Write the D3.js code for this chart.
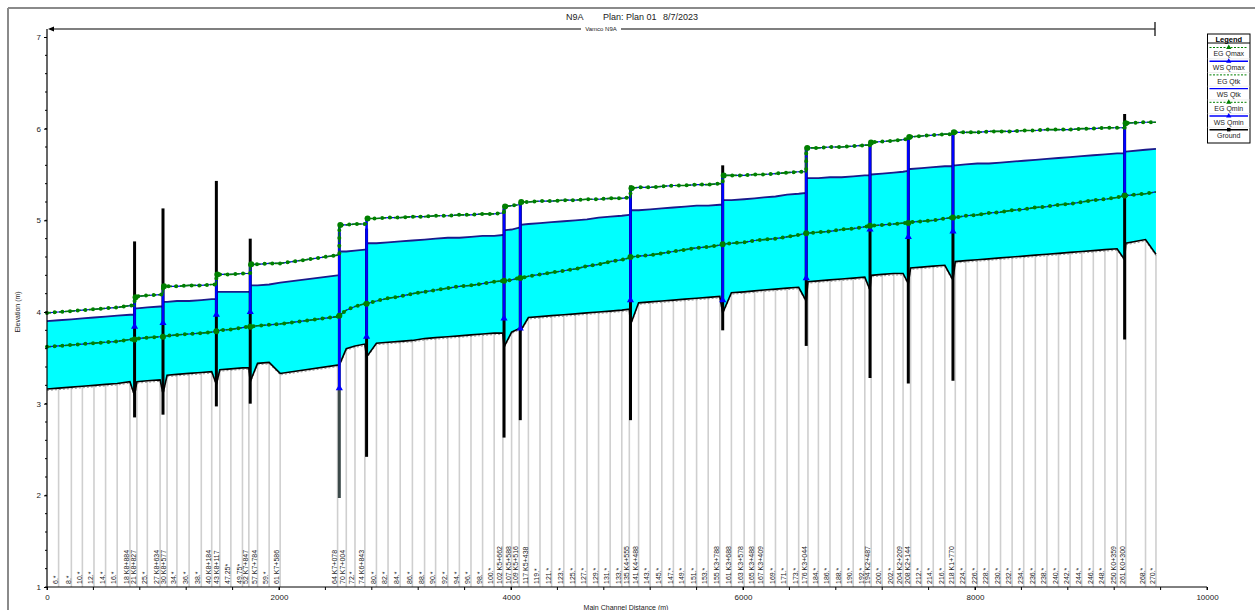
<!DOCTYPE html>
<html>
<head>
<meta charset="utf-8">
<script src="https://cdn.jsdelivr.net/npm/d3@7"></script>
<style>
  body { margin: 0; background: #fff; }
  svg { display: block; font-family: "Liberation Sans", Arial, sans-serif; }
</style>
</head>
<body>
<script>
'use strict'

// cross sections (main channel distance, name) and profile values at each one
const secDist = [0,100,210,305,405,505,605,715,775,865,975,1035,1120,1225,1330,1420,1490,1585,1685,1740,
  1815,1915,2010,2505,2580,2655,2740,2840,2940,3045,3150,3255,3350,3455,3555,3655,3755,3855,3930,4005,
  4070,4150,4250,4350,4455,4555,4655,4755,4855,4955,5020,5100,5200,5300,5400,5500,5600,5700,5800,5900,
  6010,6100,6180,6280,6380,6480,6560,6650,6750,6850,6950,7050,7105,7200,7300,7380,7445,7540,7640,7740,
  7830,7920,8020,8120,8220,8320,8420,8520,8620,8720,8820,8920,9020,9120,9225,9300,9470,9560]
const secName = ['','6.*','8.*','10.*','12.*','14.*','16.*','18 K8+884','21 K8+827','25.*','27 K8+634','30 K8+577',
  '34.*','36.*','38.*','40 K8+184','43 K8+117','47.25*','49.75*','52 K7+847','57 K7+784','59.*','61 K7+586',
  '64 K7+078','70 K7+004','72.*','74 K6+843','80.*','82.*','84.*','86.*','88.*','90.*','92.*','94.*','96.*','98.*','100.*',
  '102 K5+662','107 K5+588','109 K5+516','117 K5+438','119.*','121.*','123.*','125.*','127.*','129.*','131.*','133.*',
  '135 K4+555','141 K4+488','143.*','145.*','147.*','149.*','151.*','153.*','155 K3+788','161 K3+688','163 K3+578',
  '165 K3+488','167 K3+409','169.*','171.*','173.*','176 K3+044','184.*','186.*','188.*','190.*','192.*','194 K2+487',
  '200.*','202.*','204 K2+209','208 K2+144','212.*','214.*','216.*','218 K1+770','224.*','226.*','228.*','230.*','232.*',
  '234.*','236.*','238.*','240.*','242.*','244.*','246.*','248.*','250 K0+359','261 K0+300','268.*','270.*']
const secGround = [3.16,3.17,3.18,3.19,3.20,3.21,3.22,3.24,3.24,3.25,3.26,3.31,3.32,3.33,3.34,3.35,3.37,3.38,3.39,3.39,
  3.44,3.45,3.33,3.42,3.60,3.63,3.65,3.66,3.67,3.68,3.69,3.71,3.72,3.73,3.74,3.75,3.76,3.77,3.77,3.78,
  3.82,3.94,3.95,3.96,3.97,3.98,3.99,4.00,4.01,4.02,4.03,4.10,4.11,4.12,4.13,4.14,4.15,4.16,4.17,4.21,
  4.22,4.23,4.24,4.25,4.26,4.27,4.33,4.34,4.35,4.36,4.37,4.38,4.40,4.41,4.42,4.42,4.48,4.49,4.50,4.51,
  4.55,4.56,4.57,4.58,4.59,4.60,4.61,4.62,4.63,4.64,4.65,4.66,4.67,4.68,4.69,4.75,4.79,4.63]
const secEgMax = [3.99,4.00,4.01,4.02,4.03,4.04,4.05,4.07,4.17,4.18,4.19,4.28,4.28,4.29,4.29,4.30,4.41,4.41,4.42,4.42,
  4.52,4.53,4.53,4.62,4.95,4.96,4.96,5.02,5.03,5.03,5.04,5.04,5.05,5.05,5.06,5.06,5.07,5.07,5.08,5.16,
  5.17,5.20,5.21,5.21,5.22,5.22,5.23,5.23,5.24,5.24,5.25,5.36,5.36,5.37,5.38,5.38,5.39,5.39,5.40,5.49,
  5.49,5.50,5.50,5.51,5.52,5.53,5.79,5.79,5.80,5.80,5.81,5.82,5.85,5.86,5.87,5.88,5.91,5.92,5.93,5.94,
  5.96,5.96,5.96,5.97,5.97,5.97,5.98,5.98,5.99,5.99,5.99,6.00,6.00,6.01,6.01,6.06,6.07,6.07]
const secWsMax = [3.90,3.91,3.92,3.93,3.94,3.95,3.96,3.97,4.04,4.05,4.06,4.11,4.12,4.12,4.13,4.14,4.22,4.22,4.22,4.22,
  4.29,4.30,4.32,4.40,4.66,4.67,4.68,4.75,4.76,4.77,4.78,4.79,4.80,4.81,4.81,4.82,4.83,4.83,4.84,4.90,
  4.92,4.96,4.97,4.98,4.99,5.00,5.01,5.03,5.04,5.05,5.06,5.11,5.12,5.13,5.14,5.15,5.16,5.16,5.17,5.22,
  5.23,5.24,5.25,5.26,5.28,5.29,5.46,5.46,5.47,5.47,5.48,5.49,5.50,5.51,5.52,5.53,5.56,5.57,5.58,5.59,
  5.60,5.61,5.62,5.62,5.63,5.64,5.65,5.66,5.67,5.68,5.69,5.70,5.71,5.72,5.73,5.75,5.77,5.78]
const secEgMin = [3.62,3.63,3.64,3.65,3.66,3.67,3.68,3.70,3.71,3.72,3.73,3.74,3.75,3.76,3.77,3.78,3.80,3.81,3.83,3.84,
  3.85,3.86,3.87,3.95,4.02,4.06,4.09,4.12,4.15,4.17,4.20,4.22,4.24,4.26,4.28,4.29,4.31,4.33,4.34,4.35,
  4.37,4.39,4.41,4.43,4.45,4.47,4.50,4.52,4.55,4.57,4.59,4.61,4.62,4.64,4.66,4.68,4.70,4.71,4.73,4.75,
  4.76,4.78,4.79,4.80,4.82,4.84,4.86,4.87,4.88,4.90,4.91,4.93,4.94,4.95,4.96,4.97,4.98,4.99,5.00,5.02,
  5.03,5.05,5.06,5.08,5.09,5.11,5.12,5.14,5.15,5.17,5.18,5.20,5.22,5.23,5.25,5.27,5.29,5.31]
// WS Qmin sits right under EG Qmin in the picture
const secWsMin = secEgMin

// bridges / culverts
const strDist   = [755,1000,1460,1752,2520,2755,3940,4080,5030,5825,6545,7095,7425,7810,9290]
const strTop    = [4.77,5.13,5.43,4.80,4.87,4.91,5.13,5.20,5.38,5.60,5.80,5.85,5.92,5.98,6.16]
const strBottom = [2.85,2.88,2.97,3.00,1.97,2.42,2.63,2.82,2.82,3.80,3.63,3.28,3.22,3.25,3.70]
const strGround = [3.09,3.11,3.21,3.24,3.42,3.51,3.62,3.79,3.86,3.99,4.12,4.24,4.31,4.35,4.57]
const strEgMaxDn = [4.07,4.19,4.30,4.42,4.62,4.96,5.08,5.17,5.25,5.40,5.53,5.82,5.89,5.94,6.01]
const strEgMaxUp = [4.16,4.28,4.41,4.52,4.95,5.02,5.15,5.20,5.35,5.49,5.79,5.85,5.91,5.96,6.06]
const strWsMaxDn = [3.97,4.06,4.14,4.22,4.40,4.68,4.84,4.92,5.06,5.17,5.30,5.49,5.54,5.59,5.73]
const strWsMaxUp = [4.04,4.11,4.22,4.29,4.66,4.75,4.89,4.95,5.11,5.22,5.46,5.50,5.56,5.60,5.75]
const strEgMin  = [3.70,3.73,3.79,3.84,3.96,4.09,4.34,4.37,4.60,4.74,4.86,4.94,4.97,5.03,5.27]
const strWsLow  = [3.84,3.88,3.97,4.00,3.17,3.73,3.93,3.82,4.13,4.13,4.37,4.90,4.82,4.88,5.29]

const xTicks = [0, 2000, 4000, 6000, 8000, 10000]
const yTicks = [1, 2, 3, 4, 5, 6, 7]
const legendNames = ['EG Qmax', 'WS Qmax', 'EG Qtk', 'WS Qtk', 'EG Qmin', 'WS Qmin', 'Ground']

const GREEN = '#008000', BLUE = '#0000ff', CYAN = '#00ffff'

const svg = d3.select('body').append('svg').attr('width', 1255).attr('height', 610)

const x = d3.scaleLinear().domain([0, 10000]).range([47, 1207])
const y = d3.scaleLinear().domain([1, 7]).range([587, 37])

// window frame
svg.append('line').attr('x1', 8).attr('x2', 1255).attr('y1', 8).attr('y2', 8)
  .attr('stroke', '#8a8a8a').attr('stroke-width', 2)
svg.append('line').attr('x1', 8).attr('x2', 8).attr('y1', 8).attr('y2', 610)
  .attr('stroke', '#8a8a8a').attr('stroke-width', 2)

// merge section values with the structure points, sorted by distance
function profile(vals, dn, up) {
  const pts = secDist.map((d, i) => [d, vals[i], 0])
  if (dn) strDist.forEach((d, i) => {
    pts.push([d, dn[i], 1])
    pts.push([d, up[i], 2])
  })
  pts.sort((a, b) => a[0] - b[0] || a[2] - b[2])
  return pts
}

const line = d3.line().x(d => x(d[0])).y(d => y(d[1]))

const groundPts = profile(secGround, strGround, strGround)
const wsMaxPts = profile(secWsMax, strWsMaxDn, strWsMaxUp)
const egMaxPts = profile(secEgMax, strEgMaxDn, strEgMaxUp)
const egMinPts = profile(secEgMin, strEgMin, strEgMin)
const wsMinPts = profile(secWsMin, strEgMin, strEgMin)

const g = svg.append('g')

// section lines below the ground
g.append('g').selectAll('line')
  .data(secDist.slice(1))
  .enter().append('line')
  .attr('x1', d => x(d)).attr('x2', d => x(d))
  .attr('y1', (d, i) => y(secGround[i + 1])).attr('y2', y(1))
  .attr('stroke', '#cfcfcf').attr('stroke-width', 1.6)

// water (Qmax) area
g.append('path')
  .attr('d', line(wsMaxPts.concat(groundPts.slice().reverse())) + 'Z')
  .attr('fill', CYAN)

// ground
g.append('path').attr('d', line(groundPts))
  .attr('fill', 'none').attr('stroke', '#9a9a9a').attr('stroke-width', 1)
  .attr('stroke-dasharray', '2,2').attr('transform', 'translate(0,1.5)')
g.append('path').attr('d', line(groundPts))
  .attr('fill', 'none').attr('stroke', '#000').attr('stroke-width', 1.6)

// WS Qmax
g.append('path').attr('d', line(wsMaxPts))
  .attr('fill', 'none').attr('stroke', '#1a1a8c').attr('stroke-width', 1.8)

// structures
g.append('g').selectAll('line')
  .data(strDist)
  .enter().append('line')
  .attr('x1', d => x(d)).attr('x2', d => x(d))
  .attr('y1', (d, i) => y(strTop[i])).attr('y2', (d, i) => y(strBottom[i]))
  .attr('stroke', (d, i) => i === 4 ? '#3c4a4a' : '#000').attr('stroke-width', 3)

// energy / water lines: blue line, green dashes, then markers along the path
function egLine(pts, wsPts) {
  g.append('path').attr('d', line(wsPts))
    .attr('fill', 'none').attr('stroke', BLUE).attr('stroke-width', 1.2)
  g.append('path').attr('d', line(pts))
    .attr('fill', 'none').attr('stroke', GREEN).attr('stroke-width', 1.6)
    .attr('stroke-dasharray', '4,2')
  g.append('path').attr('d', line(pts))
    .attr('fill', 'none').attr('stroke', GREEN).attr('stroke-width', 4)
    .attr('stroke-linecap', 'round').attr('stroke-dasharray', '0,7.7')
}

egLine(egMinPts, wsMinPts)

// blue WS verticals at structures
g.append('g').selectAll('line')
  .data(strDist)
  .enter().append('line')
  .attr('x1', d => x(d)).attr('x2', d => x(d))
  .attr('y1', (d, i) => y(strEgMaxUp[i])).attr('y2', (d, i) => y(strWsLow[i]))
  .attr('stroke', BLUE).attr('stroke-width', 2.6)
g.append('g').selectAll('path')
  .data(strDist)
  .enter().append('path')
  .attr('d', d3.symbol(d3.symbolTriangle, 22))
  .attr('transform', (d, i) => 'translate(' + [x(d), y(strWsLow[i])] + ')')
  .attr('fill', BLUE)

egLine(egMaxPts, egMaxPts)

// junction dots
const dots = g.append('g').attr('fill', GREEN)
strDist.forEach((d, i) => {
  dots.append('circle').attr('cx', x(d) + 1).attr('cy', y(strEgMaxUp[i])).attr('r', 3)
  dots.append('circle').attr('cx', x(d)).attr('cy', y(strEgMin[i])).attr('r', 3)
})

// section names
g.append('g').selectAll('text')
  .data(secDist)
  .enter().filter((d, i) => secName[i] !== '').append('text')
  .attr('transform', d => 'translate(' + [x(d) - 0.8, 584] + ') rotate(-90)')
  .attr('font-size', 7).attr('fill', '#222')
  .text(d => secName[secDist.indexOf(d)])

// axes
const yAxis = svg.append('g').attr('transform', 'translate(47,0)')
  .call(d3.axisLeft(y).tickValues(yTicks).tickSize(3).tickFormat(d3.format('d')))
yAxis.selectAll('text').attr('font-size', 8).attr('fill', '#222')
yAxis.select('.domain').remove()
svg.append('g').selectAll('line')
  .data(d3.range(10, 70, 2).map(v => v / 10))
  .enter().append('line')
  .attr('x1', 45).attr('x2', 47).attr('y1', d => y(d)).attr('y2', d => y(d))
  .attr('stroke', '#000')
svg.append('line').attr('x1', 47).attr('x2', 47).attr('y1', 29).attr('y2', 587)
  .attr('stroke', '#000').attr('stroke-width', 1.2)

const xAxis = svg.append('g').attr('transform', 'translate(0,587)')
  .call(d3.axisBottom(x).tickValues(xTicks).tickSize(3).tickFormat(d3.format('d')))
xAxis.selectAll('text').attr('font-size', 8).attr('fill', '#222').attr('dy', '0.9em')
xAxis.select('.domain').attr('d', 'M47,0H1207')
svg.append('g').selectAll('line')
  .data(d3.range(0, 10001, 400))
  .enter().append('line')
  .attr('x1', d => x(d)).attr('x2', d => x(d)).attr('y1', 587).attr('y2', 590)
  .attr('stroke', '#000')

svg.append('text').attr('transform', 'translate(20,312) rotate(-90)')
  .attr('text-anchor', 'middle').attr('font-size', 7).attr('fill', '#222')
  .text('Elevation (m)')
svg.append('text').attr('x', 626).attr('y', 610)
  .attr('text-anchor', 'middle').attr('font-size', 7).attr('fill', '#222')
  .text('Main Channel Distance (m)')

// title
const title = svg.append('g').attr('font-size', 9).attr('fill', '#222')
title.append('text').attr('x', 566).attr('y', 20).text('N9A')
title.append('text').attr('x', 603).attr('y', 20).text('Plan: Plan 01')
title.append('text').attr('x', 663).attr('y', 20).text('8/7/2023')

// reach line
svg.append('line').attr('x1', 50).attr('x2', x(secDist[secDist.length - 1]) - 1)
  .attr('y1', 29).attr('y2', 29).attr('stroke', '#000').attr('stroke-width', 1.2)
svg.append('path').attr('d', 'M48,29L54,26.5L54,31.5Z').attr('fill', '#000')
svg.append('line').attr('x1', 1155).attr('x2', 1155).attr('y1', 22).attr('y2', 36)
  .attr('stroke', '#000').attr('stroke-width', 1.2)
svg.append('rect').attr('x', 581).attr('y', 25).attr('width', 40).attr('height', 7).attr('fill', '#fff')
svg.append('text').attr('x', 601).attr('y', 31).attr('text-anchor', 'middle')
  .attr('font-size', 6).attr('fill', '#222').text('Vamco N9A')

// legend
const lg = svg.append('g').attr('transform', 'translate(1207.5,34)')
lg.append('rect').attr('width', 42.5).attr('height', 109)
  .attr('fill', '#fff').attr('stroke', '#000')
lg.append('text').attr('x', 21.25).attr('y', 7.5).attr('text-anchor', 'middle')
  .attr('font-size', 7.5).attr('font-weight', 'bold').text('Legend')
lg.append('line').attr('x1', 0).attr('x2', 42.5).attr('y1', 9).attr('y2', 9).attr('stroke', '#000')
const lgColor = [GREEN, BLUE, GREEN, BLUE, GREEN, BLUE, '#000']
const lgMarker = [true, true, false, false, true, true, true]
legendNames.forEach((name, i) => {
  const yy = 13.5 + i * 13.7
  const c = lgColor[i]
  lg.append('line').attr('x1', 2).attr('x2', 40.5).attr('y1', yy).attr('y2', yy)
    .attr('stroke', c).attr('stroke-width', c === GREEN ? 1 : 1.4)
    .attr('stroke-dasharray', c === GREEN ? '2,1.5' : null)
  if (lgMarker[i]) {
    lg.append('path')
      .attr('d', d3.symbol(i === 6 ? d3.symbolSquare : d3.symbolTriangle, 12))
      .attr('transform', 'translate(' + [21.25, yy] + ')').attr('fill', c)
  }
  lg.append('text').attr('x', 21.25).attr('y', yy + 8.6).attr('text-anchor', 'middle')
    .attr('font-size', 7).attr('fill', '#222').text(name)
  if (i < legendNames.length - 1) {
    lg.append('line').attr('x1', 0).attr('x2', 42.5).attr('y1', yy + 11.3).attr('y2', yy + 11.3)
      .attr('stroke', '#ddd').attr('stroke-width', 0.5)
  }
})
</script>
</body>
</html>
